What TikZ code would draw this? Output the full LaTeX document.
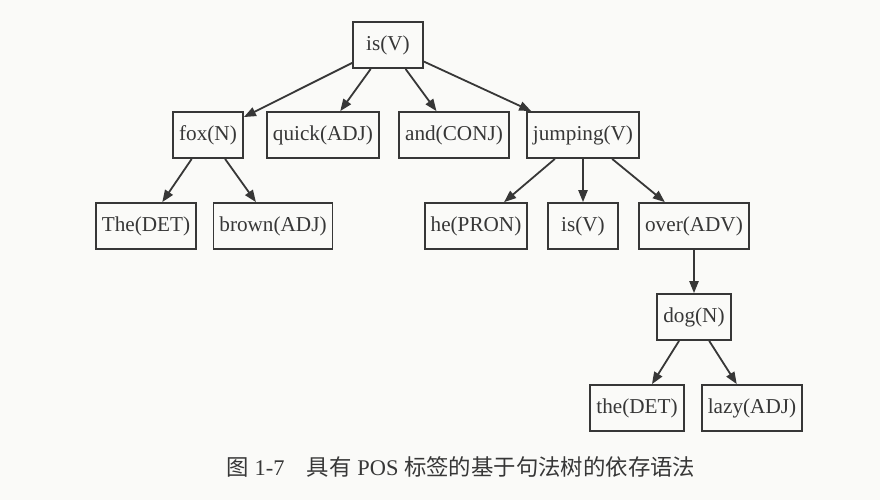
\documentclass[tikz,border=0pt]{standalone}
\usepackage{fontspec}
\setmainfont{Liberation Serif}
\newfontfamily\cjk{Noto Sans CJK SC}
\usetikzlibrary{arrows.meta}
\definecolor{ink}{RGB}{55,55,55}
\definecolor{paper}{RGB}{250,250,248}
\tikzset{
	tagbox/.style={draw=ink,line width=0.9pt,text=ink,minimum width=35pt,minimum height=23pt,inner xsep=3pt,font=\fontsize{10.6}{12}\selectfont},
	deparc/.style={draw=ink,line width=0.9pt,-{Triangle[length=6pt,width=4.6pt]}}
}
\newcommand{\dipende}[2]{\draw[deparc] (#1) -- (#2);}

\begin{document}
\begin{tikzpicture}[x=0.5pt,y=-0.5pt]
	\fill[paper] (0,0) rectangle (880,500);
	\node[tagbox] (isV) at (388,45) {is(V)};
	\node[tagbox] (fox) at (208,135) {fox(N)};
	\node[tagbox] (quick) at (323,135) {quick(ADJ)};
	\node[tagbox] (and) at (454,135) {and(CONJ)};
	\node[tagbox] (jumping) at (583,135) {jumping(V)};
	\node[tagbox] (The) at (146,226) {The(DET)};
	\node[tagbox] (brown) at (273,226) {brown(ADJ)};
	\node[tagbox] (he) at (476,226) {he(PRON)};
	\node[tagbox] (isVb) at (583,226) {is(V)};
	\node[tagbox] (over) at (694,226) {over(ADV)};
	\node[tagbox] (dog) at (694,317) {dog(N)};
	\node[tagbox] (the) at (637,408) {the(DET)};
	\node[tagbox] (lazy) at (752,408) {lazy(ADJ)};
	\dipende{isV}{fox}
	\dipende{isV}{quick}
	\dipende{isV}{and}
	\dipende{isV}{jumping}
	\dipende{fox}{The}
	\dipende{fox}{brown}
	\dipende{jumping}{he}
	\dipende{jumping}{isVb}
	\dipende{jumping}{over}
	\dipende{over}{dog}
	\dipende{dog}{the}
	\dipende{dog}{lazy}
	\node[text=ink,font=\fontsize{11.2}{13}\selectfont] (caption) at (461,467) {{\cjk 图} 1-7\quad{\cjk 具有} POS {\cjk 标签的基于句法树的依存语法}};
\end{tikzpicture}
\end{document}
